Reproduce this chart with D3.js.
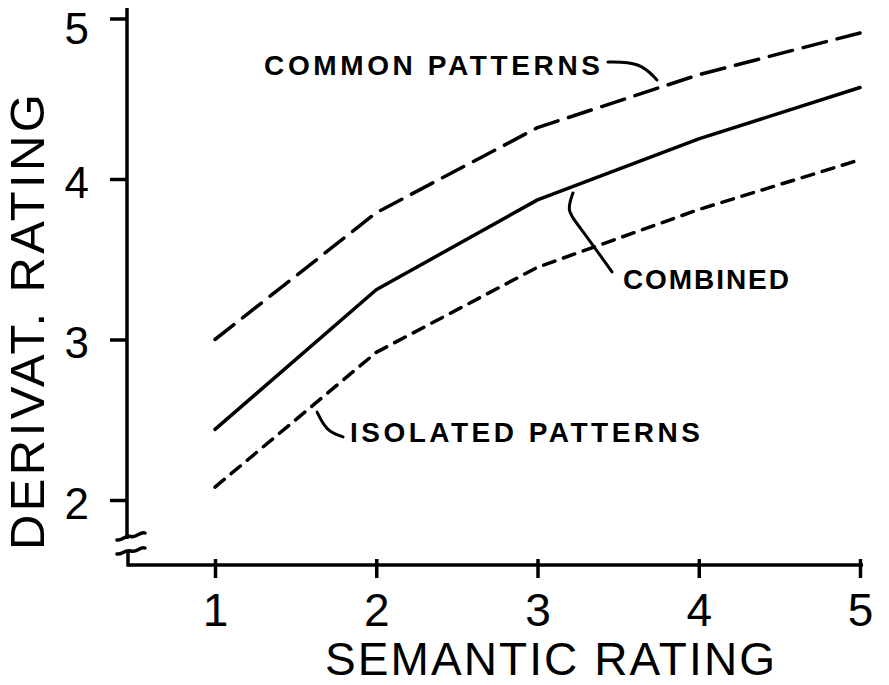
<!DOCTYPE html>
<html>
<head>
<meta charset="utf-8">
<script src="https://cdn.jsdelivr.net/npm/d3@7"></script>
<style>
  html, body { margin: 0; padding: 0; background: #fff; }
  svg { display: block; }
  text { font-family: "Liberation Sans", Arial, sans-serif; fill: #000; }
</style>
</head>
<body>
<svg id="chart" width="889" height="685"></svg>
<script>
// ---- data ----
const semanticRatings = [1, 2, 3, 4, 5];
const commonPatterns   = [3.00, 3.79, 4.32, 4.65, 4.91];
const combined         = [2.44, 3.31, 3.87, 4.25, 4.57];
const isolatedPatterns = [2.08, 2.92, 3.45, 3.81, 4.12];
const xTickLabels = ["1", "2", "3", "4", "5"];
const yTickValues = [2, 3, 4, 5];
const xTitle = "SEMANTIC RATING";
const yTitle = "DERIVAT. RATING";
const seriesNames = ["COMMON PATTERNS", "COMBINED", "ISOLATED PATTERNS"];

// ---- layout ----
const svg = d3.select("#chart");
const x = d3.scaleLinear().domain([1, 5]).range([215, 860]);
const y = d3.scaleLinear().domain([2, 5]).range([500, 18.5]);
const axisX0 = 127, axisY0 = 565;

const ink = "#000";

// ---- Y axis (with break) ----
const yAxis = d3.axisLeft(y).tickValues(yTickValues).tickSize(17).tickPadding(21)
  .tickFormat(d3.format("d"));
const gy = svg.append("g").attr("transform", `translate(${axisX0},0)`).call(yAxis);
gy.select(".domain").remove();
gy.selectAll(".tick line").attr("stroke", ink).attr("stroke-width", 3.5);
gy.selectAll(".tick text").attr("font-size", 44).attr("fill", ink)
  .attr("dy", d => d === 5 ? "0.56em" : "0.42em");

// axis line segments (gap at break)
svg.append("line").attr("x1", axisX0).attr("x2", axisX0).attr("y1", 8).attr("y2", 539)
  .attr("stroke", ink).attr("stroke-width", 3.5);
svg.append("line").attr("x1", axisX0 + 1).attr("x2", axisX0 + 1).attr("y1", 551).attr("y2", axisY0 + 1.5)
  .attr("stroke", ink).attr("stroke-width", 3.5);
// break marks
[[540, 533], [554, 548]].forEach(([ya, yb]) => {
  svg.append("path")
    .attr("d", `M117,${ya} C122,${ya + 1} 125,${ya - 5} 131,${(ya + yb) / 2} S140,${yb - 2} 145,${yb}`)
    .attr("fill", "none").attr("stroke", ink).attr("stroke-width", 3.5).attr("stroke-linecap", "round");
});

// ---- X axis ----
svg.append("line").attr("x1", axisX0).attr("x2", 863).attr("y1", axisY0).attr("y2", axisY0)
  .attr("stroke", ink).attr("stroke-width", 3.5);
const xAxis = d3.axisBottom(x).tickValues(semanticRatings).tickFormat((d, i) => xTickLabels[i]);
const gx = svg.append("g").attr("transform", `translate(0,${axisY0})`).call(xAxis);
gx.select(".domain").remove();
gx.selectAll(".tick line").attr("y1", -6).attr("y2", 13).attr("stroke", ink).attr("stroke-width", 3.5);
gx.selectAll(".tick text").attr("y", 61).attr("dy", 0).attr("font-size", 46).attr("fill", ink);

// ---- axis titles ----
svg.append("text").attr("x", 325).attr("y", 675).attr("font-size", 46)
  .attr("textLength", 450).attr("lengthAdjust", "spacing").text(xTitle);
svg.append("text").attr("transform", "translate(44,550) rotate(-90)").attr("font-size", 49)
  .attr("textLength", 456).attr("lengthAdjust", "spacing").text(yTitle);

// ---- series lines ----
const line = d3.line().x((d, i) => x(semanticRatings[i])).y(d => y(d));
const series = [
  { values: commonPatterns, dash: "24,11" },
  { values: combined, dash: null },
  { values: isolatedPatterns, dash: "12,9" }
];
series.forEach(s => {
  const p = svg.append("path").datum(s.values).attr("d", line)
    .attr("fill", "none").attr("stroke", ink).attr("stroke-width", 3.5)
    .attr("stroke-linejoin", "round").attr("stroke-linecap", "round");
  if (s.dash) p.attr("stroke-dasharray", s.dash);
});

// ---- annotations (positions in data units) ----
const leaders = [
  [[3.437, 4.729], [3.636, 4.729], [3.741, 4.617]],
  [[3.220, 3.913], [3.180, 3.800], [3.250, 3.720], [3.462, 3.421]],
  [[1.633, 2.548], [1.690, 2.430], [1.794, 2.393]]
];
const labelPos = [[1.304, 4.648, 336], [3.53, 3.315, 166], [1.837, 2.361, 350]];
const curve = d3.line().x(d => x(d[0])).y(d => y(d[1])).curve(d3.curveBasis);
leaders.forEach(l => {
  svg.append("path").attr("d", curve(l)).attr("fill", "none").attr("stroke", ink)
    .attr("stroke-width", 3).attr("stroke-linecap", "round");
});
seriesNames.forEach((name, i) => {
  svg.append("text").attr("x", x(labelPos[i][0])).attr("y", y(labelPos[i][1]))
    .attr("font-size", 28).attr("font-weight", "bold")
    .attr("textLength", labelPos[i][2]).attr("lengthAdjust", "spacing").text(name);
});
</script>
</body>
</html>
